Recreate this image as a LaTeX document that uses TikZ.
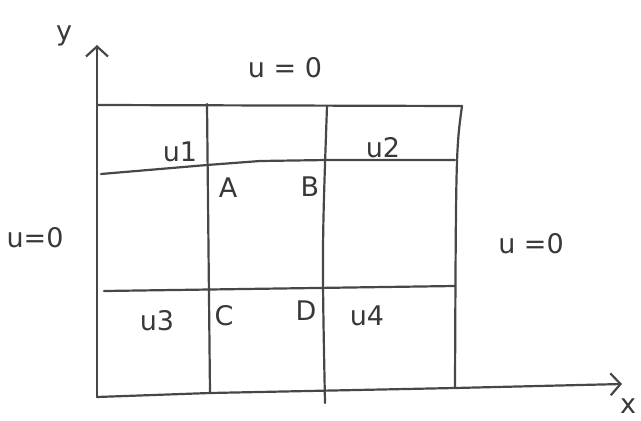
\documentclass[tikz,border=0pt]{standalone}
\usepackage{fontspec}
\setmainfont{DejaVu Sans}
\usetikzlibrary{arrows.meta}
\begin{document}
\begin{tikzpicture}[x=1pt,y=-1pt,
  ln/.style={line width=2.2pt,draw=black!72,line cap=round,line join=round},
  lbl/.style={font=\fontsize{27}{30}\selectfont,text=black!78,inner sep=0pt},
  ax/.style={ln,-{Straight Barb[length=10pt,width=22pt,line width=2.2pt]}}]
\useasboundingbox (0,0) rectangle (641,421);
% corner and grid coordinates
\coordinate (O) at (97,397);
\coordinate (Ytop) at (97,45);
\coordinate (Xend) at (622,384);
\coordinate (TL) at (97,105);
\coordinate (TR) at (462,106);
\coordinate (BR) at (455,388);
\coordinate (V1t) at (207,104);
\coordinate (V1b) at (210,393);
\coordinate (V2t) at (327,106);
\coordinate (V2b) at (325,403);
\coordinate (H1l) at (101,174);
\coordinate (H1m) at (207,165);
\coordinate (H1r) at (455,160);
\coordinate (H2l) at (104,291);
\coordinate (H2r) at (455,286);
% axes
\draw[ax] (O) -- (Ytop);
\draw[ax] (O) -- (210,393) -- (BR) -- (Xend);
% outer box
\draw[ln] (TL) -- (TR);
\draw[ln] (TR) .. controls (456,150) .. (BR);
% inner lines
\draw[ln] (V1t) -- (V1b);
\draw[ln] (V2t) .. controls (322,250) .. (V2b);
\draw[ln] (H1l) -- (H1m) -- (260,161) -- (327,160) -- (H1r);
\draw[ln] (H2l) -- (H2r);
% labels
\node[lbl] (ly) at (64,36) {y};
\node[lbl] (lx) at (628,406) {x};
\node[lbl] (top) at (285,68) {u = 0};
\node[lbl] (left) at (35,238) {u=0};
\node[lbl] (right) at (531,244) {u =0};
\node[lbl] (u1) at (180,152) {u1};
\node[lbl] (u2) at (383,148) {u2};
\node[lbl] (A) at (228,188) {A};
\node[lbl] (B) at (310,187) {B};
\node[lbl] (C) at (224,316) {C};
\node[lbl] (D) at (306,311) {D};
\node[lbl] (u3) at (157,321) {u3};
\node[lbl] (u4) at (367,316) {u4};
\end{tikzpicture}
\end{document}
